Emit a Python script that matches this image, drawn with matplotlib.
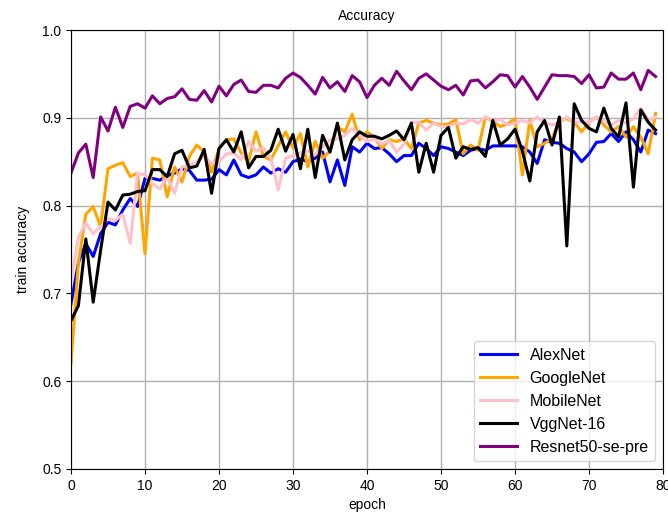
import matplotlib
matplotlib.use("Agg")
import matplotlib.pyplot as plt
import numpy as np

plt.rcParams['font.family'] = ['Liberation Sans', 'DejaVu Sans']

epochs = list(range(80))

alexnet = [0.688, 0.735, 0.757, 0.742, 0.768, 0.781, 0.778, 0.795, 0.808, 0.799,
           0.831, 0.831, 0.829, 0.834, 0.837, 0.842, 0.840, 0.829, 0.829, 0.830,
           0.841, 0.835, 0.852, 0.835, 0.832, 0.835, 0.844, 0.837, 0.842, 0.838,
           0.850, 0.853, 0.850, 0.854, 0.861, 0.827, 0.852, 0.823, 0.867, 0.861,
           0.871, 0.865, 0.866, 0.859, 0.850, 0.857, 0.857, 0.871, 0.865, 0.857,
           0.867, 0.865, 0.861, 0.857, 0.863, 0.865, 0.863, 0.868, 0.868, 0.868,
           0.868, 0.867, 0.861, 0.848, 0.875, 0.872, 0.871, 0.865, 0.861, 0.850,
           0.859, 0.872, 0.873, 0.882, 0.873, 0.884, 0.875, 0.861, 0.886, 0.882]

googlenet = [0.620, 0.735, 0.790, 0.799, 0.776, 0.842, 0.846, 0.849, 0.833, 0.837,
             0.745, 0.854, 0.852, 0.810, 0.844, 0.827, 0.856, 0.869, 0.861, 0.838,
             0.865, 0.875, 0.876, 0.860, 0.850, 0.884, 0.856, 0.852, 0.868, 0.884,
             0.866, 0.882, 0.844, 0.873, 0.854, 0.862, 0.890, 0.884, 0.904, 0.875,
             0.884, 0.878, 0.865, 0.875, 0.873, 0.876, 0.865, 0.894, 0.897, 0.894,
             0.892, 0.893, 0.898, 0.859, 0.869, 0.863, 0.901, 0.896, 0.890, 0.893,
             0.899, 0.835, 0.897, 0.867, 0.871, 0.876, 0.897, 0.899, 0.895, 0.884,
             0.895, 0.901, 0.892, 0.884, 0.890, 0.878, 0.890, 0.878, 0.859, 0.905]

mobilenet = [0.715, 0.764, 0.780, 0.768, 0.776, 0.785, 0.783, 0.790, 0.757, 0.837,
             0.835, 0.825, 0.819, 0.833, 0.814, 0.844, 0.846, 0.850, 0.856, 0.848,
             0.850, 0.859, 0.860, 0.852, 0.873, 0.862, 0.866, 0.854, 0.818, 0.854,
             0.857, 0.860, 0.862, 0.858, 0.867, 0.875, 0.876, 0.880, 0.888, 0.880,
             0.873, 0.876, 0.870, 0.874, 0.861, 0.870, 0.895, 0.895, 0.886, 0.894,
             0.890, 0.890, 0.894, 0.893, 0.898, 0.894, 0.901, 0.897, 0.898, 0.892,
             0.894, 0.897, 0.894, 0.901, 0.894, 0.892, 0.894, 0.901, 0.895, 0.895,
             0.895, 0.901, 0.896, 0.892, 0.897, 0.894, 0.899, 0.911, 0.897, 0.901]

vggnet16 = [0.669, 0.686, 0.762, 0.690, 0.749, 0.804, 0.795, 0.812, 0.813, 0.816,
            0.817, 0.841, 0.841, 0.833, 0.859, 0.863, 0.843, 0.845, 0.864, 0.814,
            0.865, 0.875, 0.861, 0.884, 0.843, 0.856, 0.856, 0.863, 0.887, 0.862,
            0.881, 0.842, 0.887, 0.832, 0.880, 0.861, 0.894, 0.852, 0.875, 0.884,
            0.879, 0.879, 0.876, 0.880, 0.885, 0.875, 0.894, 0.838, 0.871, 0.838,
            0.880, 0.889, 0.854, 0.867, 0.864, 0.866, 0.856, 0.897, 0.869, 0.876,
            0.887, 0.862, 0.828, 0.884, 0.897, 0.869, 0.901, 0.754, 0.916, 0.897,
            0.888, 0.884, 0.911, 0.888, 0.878, 0.917, 0.821, 0.909, 0.895, 0.886]

resnet50 = [0.837, 0.860, 0.870, 0.832, 0.901, 0.885, 0.912, 0.889, 0.913, 0.916,
            0.911, 0.925, 0.916, 0.922, 0.924, 0.933, 0.921, 0.920, 0.931, 0.918,
            0.936, 0.925, 0.938, 0.943, 0.930, 0.929, 0.937, 0.937, 0.934, 0.945,
            0.951, 0.946, 0.937, 0.927, 0.946, 0.934, 0.941, 0.930, 0.948, 0.941,
            0.923, 0.937, 0.945, 0.937, 0.953, 0.942, 0.932, 0.945, 0.950, 0.943,
            0.936, 0.932, 0.937, 0.926, 0.942, 0.943, 0.934, 0.941, 0.949, 0.948,
            0.935, 0.947, 0.935, 0.921, 0.935, 0.949, 0.948, 0.948, 0.947, 0.939,
            0.949, 0.934, 0.935, 0.951, 0.944, 0.944, 0.951, 0.932, 0.954, 0.947]

series_names = ["AlexNet", "GoogleNet", "MobileNet", "VggNet-16", "Resnet50-se-pre"]
series_colors = ["blue", "orange", "pink", "black", "purple"]
series_values = [alexnet, googlenet, mobilenet, vggnet16, resnet50]

fig = plt.figure(figsize=(6.68, 5.16), dpi=100)
ax = fig.add_axes([71/668, 1-469/516, (663-71)/668, (469-30)/516])

for name, color, vals in zip(series_names, series_colors, series_values):
    ax.plot(epochs, vals, color=color, linewidth=2.2, label=name)

ax.set_xlim(0, 80)
ax.set_ylim(0.5, 1.0)
ax.set_xticks(range(0, 81, 10))
ax.set_yticks([0.5, 0.6, 0.7, 0.8, 0.9, 1.0])
ax.grid(True, color='#b0b0b0', linewidth=1.0)
ax.tick_params(labelsize=10)
ax.tick_params(axis='x', pad=4)
ax.set_title("Accuracy", fontsize=10, pad=7.5)
ax.set_xlabel("epoch", fontsize=10, labelpad=3.5)
ax.set_ylabel("train accuracy", fontsize=10, labelpad=9)
ax.legend(loc='lower right', fontsize=11.5, handlelength=2.3)

fig.savefig("out.png", dpi=100)
